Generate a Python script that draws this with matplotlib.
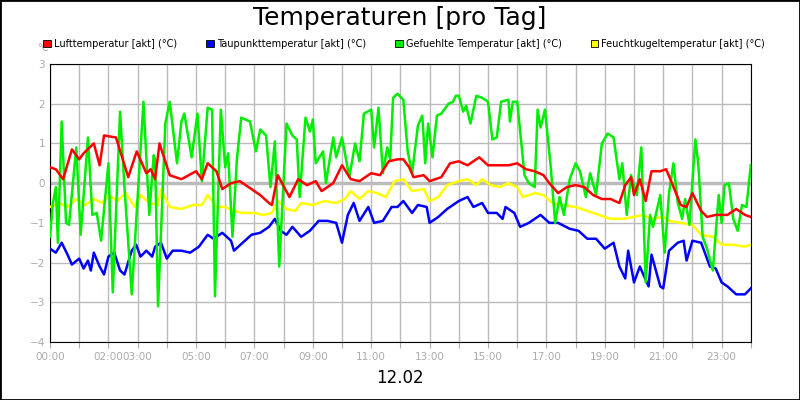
import matplotlib
matplotlib.use("Agg")
import matplotlib.pyplot as plt
from matplotlib.patches import Patch, Rectangle

# hours of day and values (deg C)
red_t = [0, 0.2, 0.45, 0.75, 1.0, 1.15, 1.5, 1.7, 1.85, 2.26, 2.68, 2.97, 3.3, 3.45, 3.6, 3.75, 4.1, 4.5,
         5.0, 5.2, 5.4, 5.7, 5.9, 6.2, 6.5, 6.8, 7.2, 7.5, 7.6, 7.8, 8.2, 8.5, 8.8, 9.1, 9.3, 9.7, 10.0,
         10.3, 10.6, 11.0, 11.3, 11.6, 11.9, 12.1, 12.3, 12.45, 12.8, 13.0, 13.4, 13.7, 14.0, 14.3, 14.7,
         15.0, 15.3, 15.7, 16.0, 16.3, 16.6, 16.9, 17.1, 17.4, 17.7, 18.0, 18.3, 18.6, 18.9, 19.2, 19.5,
         19.7, 19.9, 20.0, 20.2, 20.4, 20.6, 20.9, 21.1, 21.3, 21.6, 21.8, 22.0, 22.3, 22.5, 22.8, 23.2,
         23.5, 23.8, 24.0]
red_v = [0.4, 0.35, 0.1, 0.85, 0.6, 0.75, 1.0, 0.45, 1.2, 1.15, 0.15, 0.8, 0.25, 0.35, 0.1, 1.0, 0.2, 0.1,
         0.3, 0.1, 0.5, 0.3, -0.15, 0.0, 0.05, -0.1, -0.3, -0.5, -0.55, 0.2, -0.35, 0.1, -0.05, 0.05, -0.2,
         0.0, 0.45, 0.1, 0.05, 0.25, 0.2, 0.55, 0.6, 0.6, 0.4, 0.15, 0.2, 0.05, 0.15, 0.5, 0.55, 0.45, 0.65,
         0.45, 0.45, 0.45, 0.5, 0.35, 0.3, 0.2, 0.0, -0.25, -0.1, -0.05, -0.1, -0.3, -0.4, -0.4, -0.5,
         -0.05, 0.15, -0.3, 0.1, -0.45, 0.3, 0.3, 0.35, 0.0, -0.55, -0.6, -0.25, -0.7, -0.85, -0.8, -0.8,
         -0.65, -0.8, -0.85]

blue_t = [0, 0.2, 0.4, 0.6, 0.75, 1.0, 1.15, 1.3, 1.4, 1.5, 1.7, 1.85, 2.0, 2.2, 2.4, 2.55, 2.8, 2.95,
          3.1, 3.3, 3.5, 3.6, 3.8, 4.0, 4.2, 4.5, 4.8, 5.1, 5.4, 5.6, 5.9, 6.2, 6.3, 6.6, 6.9, 7.2, 7.5,
          7.7, 7.9, 8.1, 8.3, 8.6, 8.9, 9.2, 9.5, 9.8, 10.0, 10.2, 10.4, 10.6, 10.9, 11.1, 11.4, 11.7, 11.9,
          12.1, 12.4, 12.6, 12.9, 13.0, 13.3, 13.6, 14.0, 14.3, 14.5, 14.8, 15.0, 15.3, 15.5, 15.6, 15.9,
          16.1, 16.4, 16.8, 17.1, 17.4, 17.8, 18.1, 18.4, 18.7, 19.0, 19.3, 19.5, 19.7, 19.8, 20.0, 20.2,
          20.5, 20.6, 20.9, 21.0, 21.2, 21.5, 21.7, 21.8, 22.0, 22.3, 22.6, 22.8, 23.0, 23.2, 23.5, 23.8, 24.0]
blue_v = [-1.65, -1.75, -1.5, -1.8, -2.05, -1.9, -2.15, -1.95, -2.2, -1.75, -2.1, -2.3, -1.85, -1.75, -2.2,
          -2.3, -1.7, -1.55, -1.85, -1.7, -1.85, -1.6, -1.5, -1.9, -1.7, -1.7, -1.75, -1.6, -1.3, -1.4, -1.25,
          -1.45, -1.7, -1.5, -1.3, -1.25, -1.1, -0.9, -1.2, -1.3, -1.1, -1.35, -1.2, -0.95, -0.95, -1.0, -1.5,
          -0.8, -0.5, -0.95, -0.6, -1.0, -0.95, -0.6, -0.6, -0.45, -0.75, -0.55, -0.6, -1.0, -0.85, -0.65,
          -0.45, -0.35, -0.6, -0.5, -0.75, -0.75, -0.9, -0.6, -0.75, -1.1, -1.0, -0.8, -1.0, -1.0, -1.15,
          -1.2, -1.4, -1.4, -1.65, -1.5, -2.1, -2.4, -1.7, -2.5, -2.1, -2.6, -1.8, -2.6, -2.65, -1.7, -1.5,
          -1.45, -1.95, -1.45, -1.5, -2.1, -2.15, -2.5, -2.6, -2.8, -2.8, -2.65]

yellow_t = [0, 0.3, 0.6, 0.9, 1.2, 1.5, 1.8, 2.0, 2.3, 2.6, 2.9, 3.1, 3.4, 3.7, 3.8, 4.1, 4.5, 4.9, 5.2,
            5.4, 5.7, 6.0, 6.3, 6.6, 7.0, 7.3, 7.6, 7.8, 8.1, 8.4, 8.6, 9.0, 9.4, 9.8, 10.1, 10.3, 10.6,
            10.9, 11.2, 11.5, 11.8, 12.1, 12.4, 12.8, 13.0, 13.3, 13.6, 14.0, 14.3, 14.6, 14.8, 15.1, 15.4,
            15.7, 16.0, 16.2, 16.6, 16.9, 17.2, 17.5, 18.0, 18.4, 18.8, 19.2, 19.6, 20.0, 20.3, 20.6, 21.0,
            21.2, 21.6, 22.0, 22.3, 22.7, 23.0, 23.4, 23.8, 24.0]
yellow_v = [-0.6, -0.5, -0.6, -0.4, -0.55, -0.4, -0.5, -0.3, -0.45, -0.25, -0.6, -0.3, -0.5, -0.55, -0.15,
            -0.6, -0.65, -0.55, -0.55, -0.3, -0.6, -0.6, -0.7, -0.75, -0.75, -0.8, -0.75, -0.45, -0.65, -0.7,
            -0.5, -0.55, -0.45, -0.5, -0.4, -0.2, -0.4, -0.2, -0.25, -0.35, 0.05, 0.1, -0.2, -0.15, -0.45,
            -0.35, -0.05, 0.05, 0.1, -0.05, 0.1, -0.05, -0.1, 0.0, -0.1, -0.35, -0.25, -0.3, -0.5, -0.55,
            -0.6, -0.7, -0.8, -0.9, -0.9, -0.85, -0.8, -0.9, -0.85, -0.95, -1.0, -1.05, -1.3, -1.35, -1.55,
            -1.55, -1.6, -1.55]

green_t = [0, 0.1, 0.2, 0.27, 0.4, 0.55, 0.65, 0.9, 1.05, 1.3, 1.45, 1.6, 1.75, 2.0, 2.15, 2.4, 2.55, 2.8,
           3.2, 3.4, 3.55, 3.6, 3.7, 3.95, 4.1, 4.35, 4.5, 4.6, 4.85, 5.05, 5.2, 5.4, 5.55, 5.65, 5.85, 6.0,
           6.1, 6.25, 6.4, 6.55, 6.85, 7.05, 7.2, 7.4, 7.55, 7.7, 7.85, 8.1, 8.3, 8.45, 8.55, 8.75, 8.9, 9.0,
           9.1, 9.35, 9.45, 9.7, 9.8, 10.0, 10.25, 10.45, 10.6, 10.75, 11.0, 11.1, 11.25, 11.4, 11.55, 11.65,
           11.75, 11.9, 12.1, 12.25, 12.4, 12.6, 12.75, 12.85, 12.95, 13.1, 13.25, 13.4, 13.65, 13.8, 13.9,
           14.0, 14.15, 14.25, 14.4, 14.6, 14.8, 15.0, 15.15, 15.3, 15.45, 15.7, 15.75, 15.85, 16.0, 16.25,
           16.4, 16.6, 16.7, 16.8, 16.95, 17.15, 17.3, 17.45, 17.6, 17.8, 18.0, 18.15, 18.35, 18.5, 18.7,
           18.9, 19.1, 19.3, 19.5, 19.6, 19.75, 19.9, 20.1, 20.25, 20.4, 20.55, 20.65, 20.9, 21.05, 21.2,
           21.35, 21.5, 21.65, 21.75, 21.9, 22.1, 22.2, 22.35, 22.5, 22.7, 22.9, 23.0, 23.1, 23.25, 23.4,
           23.55, 23.7, 23.85, 24.0]
green_v = [-1.35, -0.5, -0.1, -1.5, 1.55, -1.0, -1.05, 0.9, -1.3, 1.15, -0.8, -0.75, -1.45, 0.5, -2.75, 1.8,
           -0.1, -2.8, 2.05, -0.8, 0.7, 0.6, -3.1, 1.5, 2.05, 0.5, 1.55, 1.75, 0.65, 1.75, 0.05, 1.9, 1.85,
           -2.85, 1.85, 0.4, 0.75, -1.35, 0.6, 1.65, 1.55, 0.8, 1.35, 1.2, -0.1, 1.05, -2.1, 1.5, 1.2, 1.1,
           -0.35, 1.65, 1.3, 1.6, 0.5, 0.8, 0.0, 1.15, 0.65, 1.15, 0.15, 1.0, 0.55, 1.75, 1.85, 0.9, 1.9, 0.25,
           0.9, 0.6, 2.15, 2.25, 2.1, 0.8, 0.25, 1.45, 1.7, 0.5, 1.5, 0.65, 1.7, 1.75, 2.0, 2.05, 2.2, 2.2,
           1.8, 1.95, 1.5, 2.2, 2.15, 2.05, 1.1, 1.15, 2.05, 2.1, 1.55, 2.05, 2.05, 0.2, 0.0, -0.1, 1.85, 1.4,
           1.85, 0.4, -1.0, -0.35, -0.8, 0.1, 0.5, 0.3, -0.35, 0.25, -0.3, 1.0, 1.25, 1.15, 0.1, 0.5, -0.8,
           0.2, -0.3, 0.9, -2.5, -0.8, -1.1, -0.3, -1.75, -0.25, 0.5, -0.5, -0.9, -0.4, -1.05, 1.1, 0.5,
           -1.35, -1.65, -2.2, -0.3, -1.0, -0.05, 0.0, -0.9, -1.2, -0.55, -0.6, 0.45]

labels = ["Lufttemperatur [akt] (°C)", "Taupunkttemperatur [akt] (°C)",
          "Gefuehlte Temperatur [akt] (°C)", "Feuchtkugeltemperatur [akt] (°C)"]
colors = ["#ff0000", "#0000ff", "#00ee00", "#ffff00"]
xlabels = {0: "00:00", 2: "02:00", 3: "03:00", 5: "05:00", 7: "07:00", 9: "09:00", 11: "11:00",
           13: "13:00", 15: "15:00", 17: "17:00", 19: "19:00", 21: "21:00", 23: "23:00"}

fig = plt.figure(figsize=(8, 4), dpi=100)
ax = fig.add_axes([0.0625, 0.145, 0.876, 0.695])

series = [(red_t, red_v), (blue_t, blue_v), (green_t, green_v), (yellow_t, yellow_v)]
# yellow first, red last so it sits on top
for i in [3, 1, 2, 0]:
    t, v = series[i]
    ax.plot(t, v, color=colors[i], lw=1.8, zorder=3 + (i == 0))

ax.set_xlim(0, 24)
ax.set_ylim(-4, 3)
ax.set_yticks(range(-4, 4))
ax.set_xticks(range(0, 25))
ax.set_xticklabels([xlabels.get(h, "") for h in range(0, 25)])
ax.grid(True, color="#bbbbbb", lw=1)
ax.axhline(0, color="#bbbbbb", lw=2.5, zorder=1)
ax.tick_params(colors="#aaaaaa", labelsize=7.5, length=4, direction="out")
ax.tick_params(axis="y", length=0)
for s in ax.spines.values():
    s.set_color("black")

fig.text(0.5, 0.955, "Temperaturen [pro Tag]", ha="center", va="center", fontsize=18)
fig.text(0.046, 0.88, "°C", ha="left", va="center", fontsize=7, color="#aaaaaa")
fig.text(0.5, 0.055, "12.02", ha="center", va="center", fontsize=12)

handles = [Patch(facecolor=c, edgecolor="black", lw=0.6) for c in colors]
fig.legend(handles, labels, loc="center", bbox_to_anchor=(0.505, 0.89), ncol=4, frameon=False,
           fontsize=7, handlelength=0.8, handleheight=0.8, handletextpad=0.3, columnspacing=3.0)

fig.add_artist(Rectangle((0, 0), 1, 1, transform=fig.transFigure, fill=False,
                         edgecolor="black", lw=2))
fig.savefig("out.png", dpi=100)
